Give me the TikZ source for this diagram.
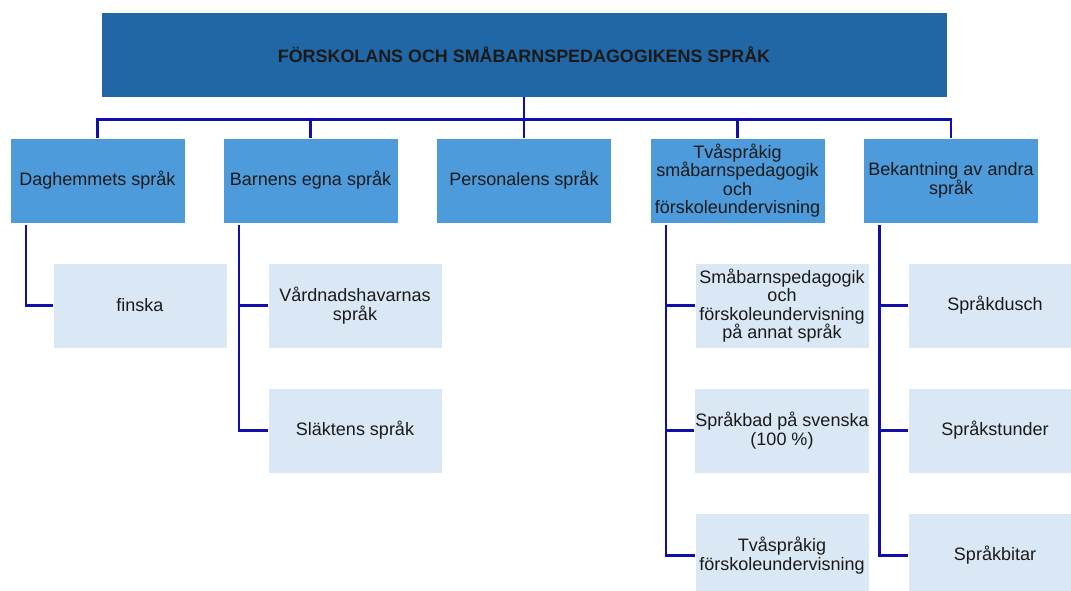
\documentclass[tikz,border=0pt]{standalone}
\usepackage{fontspec}
\setmainfont{Liberation Sans}
\definecolor{topblue}{HTML}{2166A5}
\definecolor{midblue}{HTML}{4D9BDB}
\definecolor{lightblue}{HTML}{DAE8F6}
\definecolor{linkblue}{HTML}{1010A8}
\definecolor{txt}{HTML}{1A1A1A}
\tikzset{
  topbox/.style={fill=topblue, draw=white, line width=0.6pt, minimum width=846pt, minimum height=85pt, inner sep=2pt, align=center, font=\fontsize{17.9}{19}\selectfont\bfseries, text=txt},
  catbox/.style={fill=midblue, draw=white, line width=0.6pt, minimum width=175pt, minimum height=85pt, inner sep=1pt, align=center, font=\fontsize{18}{18.4}\selectfont, text=txt},
  subbox/.style={fill=lightblue, draw=white, line width=0.6pt, minimum width=174pt, minimum height=85pt, inner sep=1pt, align=center, font=\fontsize{18}{18.4}\selectfont, text=txt},
  link/.style={draw=linkblue, line width=2.4pt}
}
\begin{document}
\begin{tikzpicture}[x=1pt,y=-1pt]
\useasboundingbox (0,0) rectangle (1071,590);
\clip (0,0) rectangle (1071,590);
\fill[white] (0,0) rectangle (1071,590);

\node[topbox] (top) at (524,54.5) {FÖRSKOLANS OCH SMÅBARNSPEDAGOGIKENS SPRÅK};

\node[catbox] (b1) at (97.5,180.5) {Daghemmets språk};
\node[catbox] (b2) at (310.5,180.5) {Barnens egna språk};
\node[catbox] (b3) at (524,180.5) {Personalens språk};
\node[catbox] (b4) at (737.5,180.5) {Tvåspråkig\\småbarnspedagogik\\och\\förskoleundervisning};
\node[catbox] (b5) at (951,180.5) {Bekantning av andra\\språk};

\node[subbox] (c11) at (140,305.5) {finska};
\node[subbox] (c21) at (355,305.5) {Vårdnadshavarnas\\språk};
\node[subbox] (c22) at (355,430.5) {Släktens språk};
\node[subbox] (c41) at (782,305.5) {Småbarnspedagogik\\och\\förskoleundervisning\\på annat språk};
\node[subbox] (c42) at (782,430.5) {Språkbad på svenska\\(100 \%)};
\node[subbox] (c43) at (782,555.5) {Tvåspråkig\\förskoleundervisning};
\node[subbox] (c51) at (995,305.5) {Språkdusch};
\node[subbox] (c52) at (995,430.5) {Språkstunder};
\node[subbox] (c53) at (995,555.5) {Språkbitar};

\foreach \b in {b1,b2,b3,b4,b5}
  \draw[link] (top.south) -- ++(0,22) -| (\b.north);

\draw[link] ([xshift=-71.5pt,yshift=-2pt]b1.south) |- (c11.west);
\draw[link] ([xshift=-71.5pt,yshift=-2pt]b2.south) |- (c21.west);
\draw[link] ([xshift=-71.5pt,yshift=-2pt]b2.south) |- (c22.west);
\draw[link] ([xshift=-71.5pt,yshift=-2pt]b4.south) |- (c41.west);
\draw[link] ([xshift=-71.5pt,yshift=-2pt]b4.south) |- (c42.west);
\draw[link] ([xshift=-71.5pt,yshift=-2pt]b4.south) |- (c43.west);
\draw[link] ([xshift=-71.5pt,yshift=-2pt]b5.south) |- (c51.west);
\draw[link] ([xshift=-71.5pt,yshift=-2pt]b5.south) |- (c52.west);
\draw[link] ([xshift=-71.5pt,yshift=-2pt]b5.south) |- (c53.west);
\end{tikzpicture}
\end{document}
